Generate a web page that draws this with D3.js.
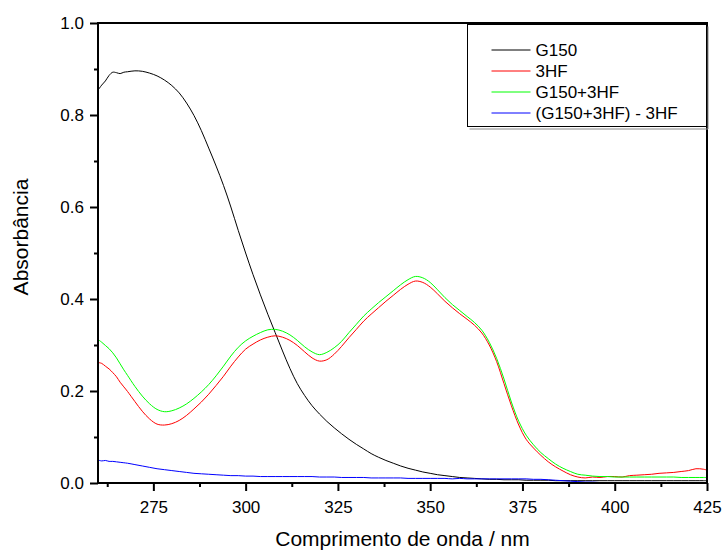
<!DOCTYPE html>
<html>
<head>
<meta charset="utf-8">
<script src="https://cdn.jsdelivr.net/npm/d3@7"></script>
<style>
  body { margin: 0; background: #fff; }
  svg text { font-family: "Liberation Sans", Arial, sans-serif; fill: #000; }
</style>
</head>
<body>
<div id="chart"></div>
<script>
// wavelength grid (nm)
const wavelengths = [260, 261, 262, 263, 264, 265, 266, 267, 268,
  270, 272, 274, 276, 278, 280, 282, 284, 286, 288, 290,
  292, 294, 296, 298, 300, 302, 304, 306, 308, 310,
  312, 314, 316, 318, 320, 322, 324, 326, 328, 330,
  332, 334, 336, 338, 340, 342, 344, 346, 348, 350,
  352, 354, 356, 358, 360, 362, 364, 366, 368, 370,
  372, 374, 376, 378, 380, 382, 384, 386, 388, 390,
  392, 394, 396, 398, 400, 402, 404, 406, 408, 410,
  412, 414, 416, 418, 420, 422, 424, 425];

const g150 = [.854, .865, .874, .886, .893, .892, .890, .893, .894,
  .896, .895, .891, .885, .876, .864, .848, .826, .799, .766, .728,
  .689, .647, .600, .549, .500, .453, .409, .367, .327, .287,
  .249, .216, .190, .168, .150, .134, .120, .107, .095, .084,
  .074, .064, .056, .049, .043, .037, .032, .028, .024, .021,
  .018, .016, .014, .012, .011, .010, .009, .008, .008, .007,
  .007, .007, .006, .006, .006, .006, .005, .005, .005, .005,
  .005, .005, .005, .005, .005, .005, .005, .005, .005, .005,
  .005, .005, .005, .005, .005, .005, .005, .005];

const hf3 = [.262, .260, .254, .248, .240, .231, .219, .209, .199,
  .177, .156, .139, .128, .126, .129, .136, .147, .161, .176, .193,
  .212, .232, .254, .274, .291, .302, .311, .317, .320, .317,
  .310, .299, .285, .272, .265, .268, .280, .297, .316, .334,
  .352, .367, .381, .395, .408, .421, .432, .439, .436, .426,
  .411, .395, .381, .368, .356, .343, .326, .300, .264, .216,
  .168, .126, .095, .076, .060, .046, .035, .026, .018, .013,
  .011, .013, .012, .014, .014, .013, .016, .017, .018, .019,
  .021, .022, .023, .025, .027, .031, .030, .028];

const g150hf = [.312, .306, .299, .292, .283, .272, .259, .246, .234,
  .210, .189, .172, .160, .155, .157, .163, .172, .184, .198, .214,
  .233, .254, .276, .295, .309, .319, .327, .333, .334, .330,
  .322, .310, .296, .285, .279, .284, .294, .308, .327, .345,
  .363, .378, .392, .405, .418, .431, .442, .449, .446, .436,
  .420, .403, .388, .375, .362, .349, .332, .306, .271, .226,
  .176, .134, .104, .083, .066, .053, .041, .032, .025, .019,
  .017, .015, .014, .014, .013, .013, .013, .013, .013, .013,
  .013, .013, .013, .012, .012, .012, .012, .012];

const diff = [.050, .048, .049, .047, .047, .046, .045, .044, .043,
  .040, .037, .034, .031, .029, .027, .025, .023, .021, .020, .019,
  .018, .017, .016, .016, .015, .015, .014, .014, .014, .014,
  .014, .014, .014, .014, .013, .013, .013, .012, .012, .012,
  .012, .011, .011, .011, .011, .011, .010, .010, .010, .010,
  .010, .010, .009, .010, .009, .009, .009, .009, .009, .009,
  .009, .009, .009, .008, .008, .007, .006, .005, .004, .003,
  .002, .002, .001, .001, .001, .000, .000, .000, .000, .000,
  .000, .000, .000, .000, .000, .000, .000, .000];

const seriesNames = ["G150", "3HF", "G150+3HF", "(G150+3HF) - 3HF"];
const seriesValues = [g150, hf3, g150hf, diff];
const seriesColors = ["#000000", "#ff0000", "#00ff00", "#0000ff"];

const xTicks = [275, 300, 325, 350, 375, 400, 425];
const xMinor = [262.5, 287.5, 312.5, 337.5, 362.5, 387.5, 412.5];
const yTicks = [0, 0.2, 0.4, 0.6, 0.8, 1.0];
const yMinor = [0.1, 0.3, 0.5, 0.7, 0.9];

const W = 724, H = 551;
const margin = {top: 23, right: 17, bottom: 68, left: 98};
const width = W - margin.left - margin.right;
const height = H - margin.top - margin.bottom;

const svg = d3.select("#chart").append("svg")
  .attr("width", W)
  .attr("height", H);

const g = svg.append("g")
  .attr("transform", "translate(" + margin.left + "," + margin.top + ")");

const x = d3.scaleLinear().domain([260, 425]).range([0, width]);
const y = d3.scaleLinear().domain([0, 1]).range([height, 0]);

svg.append("defs").append("clipPath").attr("id", "plotclip")
  .append("rect").attr("x", 0).attr("y", 0).attr("width", width).attr("height", height);

// curves
const line = d3.line()
  .x(d => x(d[0]))
  .y(d => y(d[1]))
  .curve(d3.curveCatmullRom.alpha(0.5));

const curves = g.append("g").attr("clip-path", "url(#plotclip)");
seriesValues.forEach(function(vals, i) {
  curves.append("path")
    .datum(wavelengths.map((w, k) => [w, vals[k]]))
    .attr("fill", "none")
    .attr("stroke", seriesColors[i])
    .attr("stroke-width", 1)
    .attr("d", line);
});

// axes
const xAxis = g.append("g")
  .attr("transform", "translate(0," + height + ")")
  .call(d3.axisBottom(x).tickValues(xTicks).tickSize(8).tickPadding(10).tickFormat(d3.format("d")));
const xAxisMinor = g.append("g")
  .attr("transform", "translate(0," + height + ")")
  .call(d3.axisBottom(x).tickValues(xMinor).tickSize(4).tickFormat(""));
const yAxis = g.append("g")
  .call(d3.axisLeft(y).tickValues(yTicks).tickSize(8).tickPadding(6).tickFormat(d3.format(".1f")));
const yAxisMinor = g.append("g")
  .call(d3.axisLeft(y).tickValues(yMinor).tickSize(4).tickFormat(""));

[xAxis, xAxisMinor, yAxis, yAxisMinor].forEach(function(a) {
  a.select(".domain").remove();
  a.selectAll("line").attr("stroke", "#000").attr("stroke-width", 2);
  a.selectAll("text").attr("font-size", 17).attr("font-family", "Liberation Sans, Arial, sans-serif");
});

// frame
g.append("rect")
  .attr("x", 0).attr("y", 0)
  .attr("width", width).attr("height", height)
  .attr("fill", "none")
  .attr("stroke", "#000")
  .attr("stroke-width", 2);

// axis titles
svg.append("text")
  .attr("x", margin.left + width / 2)
  .attr("y", 546)
  .attr("text-anchor", "middle")
  .attr("font-size", 21)
  .text("Comprimento de onda / nm");

svg.append("text")
  .attr("transform", "translate(28,237) rotate(-90)")
  .attr("text-anchor", "middle")
  .attr("font-size", 21)
  .text("Absorbância");

// legend
const legend = svg.append("g").attr("transform", "translate(467.5,24.5)");
legend.append("path")
  .attr("d", "M240.5,2 V104.5 H2")
  .attr("fill", "none")
  .attr("stroke", "#888")
  .attr("stroke-width", 1);
legend.append("rect")
  .attr("width", 239).attr("height", 102)
  .attr("fill", "#fff")
  .attr("stroke", "#000")
  .attr("stroke-width", 1);

seriesNames.forEach(function(name, i) {
  const row = legend.append("g").attr("transform", "translate(0," + (25.5 + i * 21) + ")");
  row.append("line")
    .attr("x1", 24).attr("x2", 63)
    .attr("stroke", seriesColors[i])
    .attr("stroke-width", 1);
  row.append("text")
    .attr("x", 68)
    .attr("dy", "0.35em")
    .attr("font-size", 17)
    .text(name);
});
</script>
</body>
</html>
